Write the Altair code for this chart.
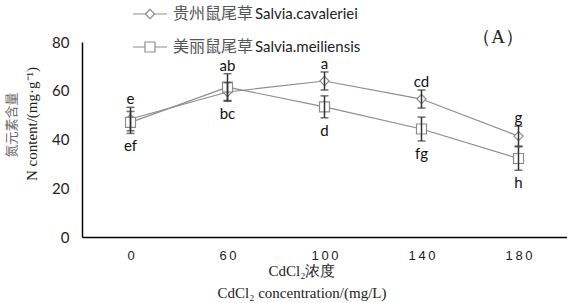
import altair as alt
import pandas as pd

conc = ["0", "60", "100", "140", "180"]
series_names = ["贵州鼠尾草Salvia.cavaleriei", "美丽鼠尾草Salvia.meiliensis"]
gz_mean = [48.4, 59.5, 64.0, 56.6, 41.4]
gz_err = [4.8, 3.8, 3.7, 3.7, 4.1]
ml_mean = [47.0, 61.5, 53.4, 44.3, 32.2]
ml_err = [4.5, 5.5, 4.5, 4.9, 4.8]
gz_letters = ["e", "bc", "a", "cd", "g"]
ml_letters = ["ef", "ab", "d", "fg", "h"]

rows = []
for i, c in enumerate(conc):
    for s, m, e, l, om in [
        (series_names[0], gz_mean[i], gz_err[i], gz_letters[i], ml_mean[i]),
        (series_names[1], ml_mean[i], ml_err[i], ml_letters[i], gz_mean[i]),
    ]:
        top = m >= om
        rows.append(dict(conc=c, series=s, value=m, lo=m - e, hi=m + e,
                         letter=l, pos="top" if top else "bottom",
                         ytext=(m + e) if top else (m - e)))
df = pd.DataFrame(rows)

GREY = "#8c8c8c"
xenc = alt.X("conc:N", sort=conc, scale=alt.Scale(type="point", padding=0.5),
             axis=alt.Axis(title=None, ticks=False, domainColor="black", domainWidth=1.5,
                           labelAngle=0, labelFont="Liberation Sans", labelFontSize=13,
                           labelColor="#222", labelPadding=12,
                           labelExpr="join(split(datum.label, ''), '\u2009')"))
yaxis = alt.Axis(title=None, values=[0, 20, 40, 60, 80], grid=False, ticks=False,
                 domainColor="black", domainWidth=1.5, labelFont="Lato",
                 labelFontSize=15, labelColor="#222", labelPadding=13)
yscale = alt.Scale(domain=[0, 80], nice=False)

base = alt.Chart(df).encode(x=xenc)

line = base.mark_line(color=GREY, strokeWidth=1.2).encode(
    y=alt.Y("value:Q", scale=yscale, axis=yaxis), detail="series:N")
pts = base.mark_point(fill="white", stroke=GREY, strokeWidth=1.2, opacity=1, fillOpacity=1).encode(
    y=alt.Y("value:Q", scale=yscale, axis=yaxis),
    shape=alt.Shape("series:N", scale=alt.Scale(domain=series_names, range=["diamond", "square"]), legend=None),
    size=alt.Size("series:N", scale=alt.Scale(domain=series_names, range=[85, 100]), legend=None))
err = base.mark_rule(color="#333", strokeWidth=1.5).encode(
    y=alt.Y("lo:Q", scale=yscale, axis=yaxis), y2="hi:Q")
cap_lo = base.mark_tick(color="#333", thickness=1.5, size=8).encode(
    y=alt.Y("lo:Q", scale=yscale, axis=yaxis))
cap_hi = base.mark_tick(color="#333", thickness=1.5, size=8).encode(
    y=alt.Y("hi:Q", scale=yscale, axis=yaxis))
lab_top = base.mark_text(baseline="bottom", dy=0, font="Lato", fontSize=15, color="#111").encode(
    y=alt.Y("ytext:Q", scale=yscale, axis=yaxis), text="letter:N"
).transform_filter(alt.datum.pos == "top")
lab_bot = base.mark_text(baseline="top", dy=6, font="Lato", fontSize=15, color="#111").encode(
    y=alt.Y("ytext:Q", scale=yscale, axis=yaxis), text="letter:N"
).transform_filter(alt.datum.pos == "bottom")

one = pd.DataFrame({"a": [0]})
ann = alt.Chart(one)

def txt(text, x, y, **kw):
    return ann.mark_text(**kw).encode(x=alt.value(x), y=alt.value(y), text=alt.value(text))

legend_layers = []
for i, (sym, cn, lat) in enumerate([("diamond", "贵州鼠尾草", "Salvia.cavaleriei"),
                                    ("square", "美丽鼠尾草", "Salvia.meiliensis")]):
    yy = -28 + i * 33
    legend_layers.append(ann.mark_rule(color=GREY, strokeWidth=1.2).encode(
        x=alt.value(51), x2=alt.value(85), y=alt.value(yy)))
    legend_layers.append(ann.mark_point(shape=sym, size=85 if sym == "diamond" else 100, fill="white",
                                        stroke=GREY, strokeWidth=1.2, opacity=1, fillOpacity=1).encode(
        x=alt.value(68), y=alt.value(yy)))
    legend_layers.append(txt(cn, 91, yy, align="left", baseline="middle",
                             font="Noto Sans CJK SC", fontSize=16, color="#555"))
    legend_layers.append(txt(lat, 173, yy, align="left", baseline="middle",
                             font="Lato", fontSize=15, color="#222"))

titles = [
    txt("（A）", 416, -5, align="center", baseline="middle", font="Liberation Serif",
        fontSize=19, color="#222"),
    txt("CdCl₂浓度", 220, 229, align="center", baseline="middle", font="Liberation Serif",
        fontSize=15, color="#222"),
    txt("CdCl₂ concentration/(mg/L)", 220, 251, align="center", baseline="middle",
        font="Liberation Serif", fontSize=15, color="#222"),
    txt("氮元素含量", -70, 83, align="center", baseline="middle", angle=270,
        font="Noto Sans CJK SC", fontSize=13, color="#666"),
    txt("N content/(mg·g⁻¹)", -50, 82, align="center", baseline="middle", angle=270,
        font="Liberation Serif", fontSize=15, color="#222"),
]

chart = alt.layer(line, pts, err, cap_lo, cap_hi, lab_top, lab_bot,
                  *legend_layers, *titles).properties(
    width=485, height=195,
    autosize=alt.AutoSizeParams(type="none"),
    padding={"left": 82, "top": 42, "right": 0, "bottom": 66},
    background="white",
).configure_view(stroke=None)

chart.save("out.html", embed_options={"renderer": "svg", "actions": False})
